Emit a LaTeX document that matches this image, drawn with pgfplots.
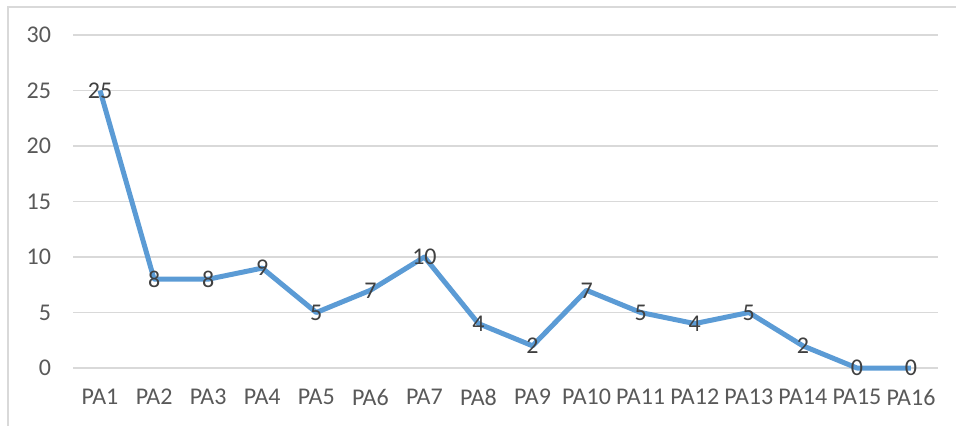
\documentclass[border=0pt]{standalone}
\usepackage{pgfplots}
\pgfplotsset{compat=1.18}
\usepackage{fontspec}
\setmainfont{Carlito}
\definecolor{serieblue}{HTML}{5B9BD5}
\definecolor{gridc}{HTML}{D9D9D9}
\definecolor{labgray}{HTML}{595959}
\definecolor{datagray}{HTML}{404040}
\begin{document}
\begin{tikzpicture}
\useasboundingbox (0,0) rectangle (478pt,212.5pt);
\draw[color=gridc, line width=0.7pt] (4pt,-20pt) -- (4pt,209pt) -- (500pt,209pt);
\begin{axis}[
  at={(36.5pt,28.5pt)}, anchor=south west,
  scale only axis, width=432.5pt, height=166.5pt,
  xmin=0.5, xmax=16.5, ymin=0, ymax=30,
  ytick={0,5,...,30},
  xtick={1,...,16},
  xticklabels={PA1,PA2,PA3,PA4,PA5,PA6,PA7,PA8,PA9,PA10,PA11,PA12,PA13,PA14,PA15,PA16},
  axis line style={draw=none},
  tick style={draw=none},
  major tick length=0pt,
  ymajorgrids,
  grid style={color=gridc, line width=0.6pt},
  /pgf/number format/assume math mode=true,
  tick label style={font=\fontsize{12}{14}\selectfont, text=labgray},
  xticklabel style={yshift=-7pt},
  yticklabel style={xshift=-7.5pt},
  clip=false,
  nodes near coords,
  every node near coord/.append style={anchor=center, font=\fontsize{12}{14}\selectfont, text=datagray},
]
\addplot[color=serieblue, line width=2.5pt, line join=round, mark=none] coordinates {
(1,25) (2,8) (3,8) (4,9) (5,5) (6,7) (7,10) (8,4) (9,2) (10,7) (11,5) (12,4) (13,5) (14,2) (15,0) (16,0)
};
\end{axis}
\end{tikzpicture}
\end{document}
